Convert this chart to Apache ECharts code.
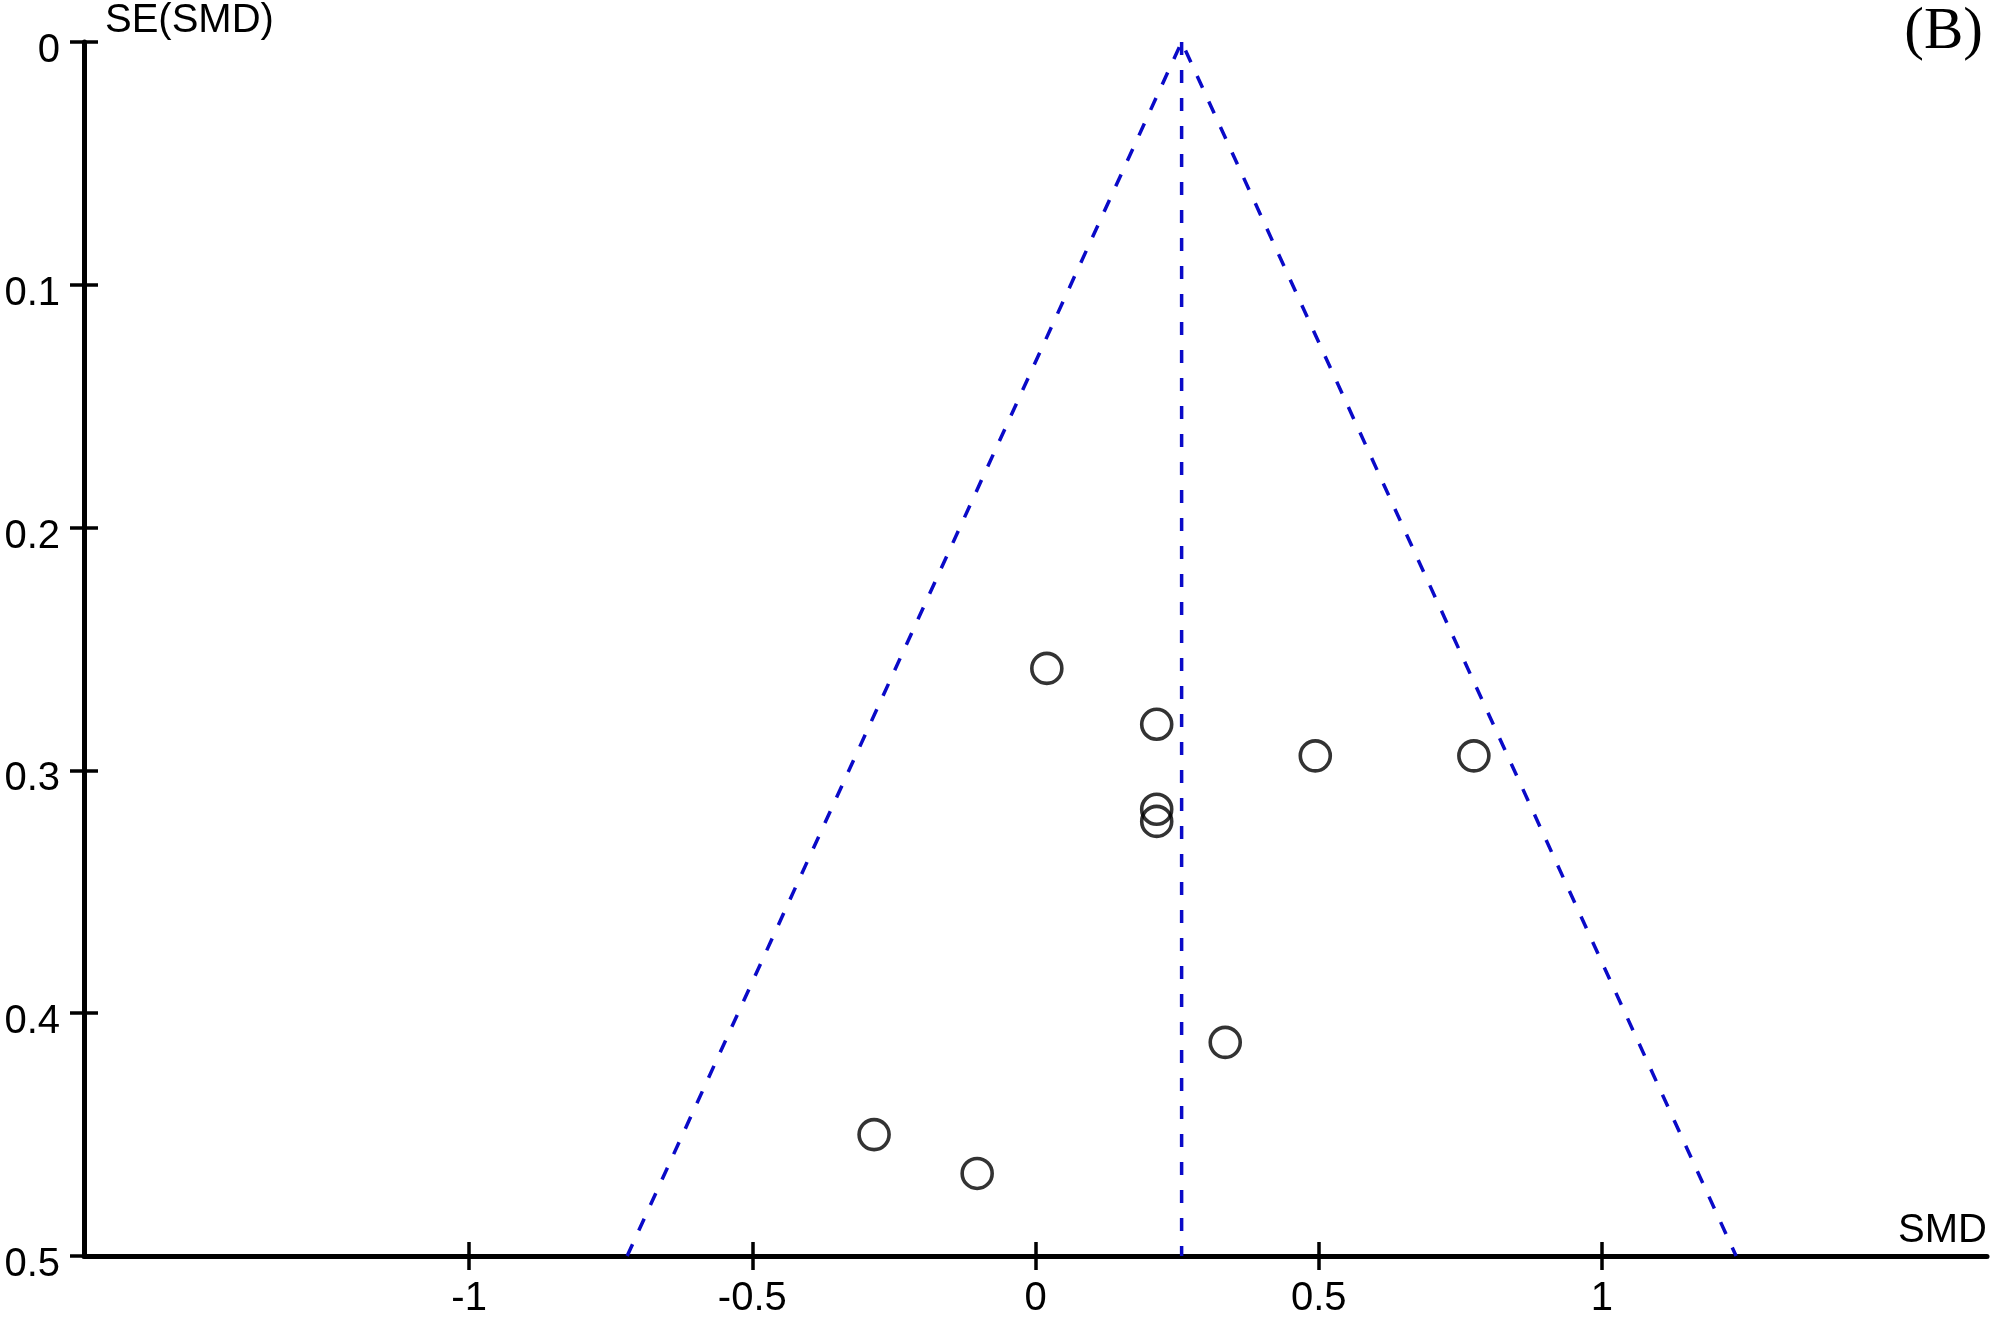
<!DOCTYPE html>
<html>
<head>
<meta charset="utf-8">
<script src="https://cdn.jsdelivr.net/npm/echarts@6/dist/echarts.min.js"></script>
<style>
html,body{margin:0;padding:0;background:#fff;}
#c{width:2000px;height:1333px;}
</style>
</head>
<body>
<div id="c"></div>
<script>
// Study points: SMD (x) and SE(SMD) (y)
var smd = [0.020, 0.214, 0.494, 0.774, 0.214, 0.214, 0.335, -0.285, -0.103];
var seSmd = [0.258, 0.281, 0.294, 0.294, 0.316, 0.321, 0.412, 0.450, 0.466];

// Funnel (pseudo 95% CI) outline and pooled estimate line
var funnelX = [-0.721, 0.258, 1.237];
var funnelY = [0.5, 0, 0.5];
var pooledX = [0.258, 0.258];
var pooledY = [0, 0.5];

// Axis settings
var xTicks = [-1, -0.5, 0, 0.5, 1];
var xMin = -1.68, xMax = 1.68;
var yMin = 0, yMax = 0.5, yInterval = 0.1;

function zip(a, b) { return a.map(function (v, i) { return [v, b[i]]; }); }

var font = '"Liberation Sans", Arial, sans-serif';
var blue = '#0a0ac8';

var chart = echarts.init(document.getElementById('c'), null, {renderer: 'canvas'});
chart.setOption({
  animation: false,
  backgroundColor: '#ffffff',
  grid: {left: 84, right: 13, top: 42, bottom: 77, containLabel: false},
  xAxis: [{
    type: 'value', min: xMin, max: xMax, position: 'bottom',
    axisLine: {show: true, onZero: false, lineStyle: {color: '#000', width: 5}},
    axisTick: {show: true, inside: false, length: 14, customValues: xTicks, lineStyle: {color: '#000', width: 3.5}},
    axisLabel: {show: true, customValues: xTicks, margin: 23, color: '#000', fontSize: 40, fontFamily: font},
    splitLine: {show: false}
  }, {
    type: 'value', min: xMin, max: xMax, position: 'bottom',
    axisLine: {show: false, onZero: false},
    axisTick: {show: true, inside: true, length: 14, customValues: xTicks, lineStyle: {color: '#000', width: 3.5}},
    axisLabel: {show: false},
    splitLine: {show: false}
  }],
  yAxis: [{
    type: 'value', min: yMin, max: yMax, interval: yInterval, inverse: true, position: 'left',
    axisLine: {show: true, onZero: false, lineStyle: {color: '#000', width: 5}},
    axisTick: {show: true, inside: false, length: 14, lineStyle: {color: '#000', width: 3.5}},
    axisLabel: {
      show: true, margin: 24, color: '#000', fontSize: 40, fontFamily: font,
      formatter: '{a|{value}}',
      rich: {a: {color: '#000', fontSize: 40, fontFamily: font, padding: [18, 0, 0, 0]}}
    },
    splitLine: {show: false}
  }, {
    type: 'value', min: yMin, max: yMax, interval: yInterval, inverse: true, position: 'left',
    axisLine: {show: false, onZero: false},
    axisTick: {show: true, inside: true, length: 14, lineStyle: {color: '#000', width: 3.5}},
    axisLabel: {show: false},
    splitLine: {show: false}
  }],
  series: [{
    type: 'line', xAxisIndex: 0, yAxisIndex: 0,
    data: zip(funnelX, funnelY), symbol: 'none', silent: true,
    lineStyle: {color: blue, width: 3.5, type: [13, 15]}
  }, {
    type: 'line', xAxisIndex: 0, yAxisIndex: 0,
    data: zip(pooledX, pooledY), symbol: 'none', silent: true,
    lineStyle: {color: blue, width: 3.5, type: [13, 15]}
  }, {
    type: 'scatter', xAxisIndex: 0, yAxisIndex: 0,
    data: zip(smd, seSmd), symbol: 'circle', symbolSize: 30,
    itemStyle: {color: 'rgba(0,0,0,0)', borderColor: '#000', borderWidth: 3.6}
  }],
  graphic: [{
    type: 'text', left: 105, top: 1,
    style: {text: 'SE(SMD)', fill: '#000', font: '40px ' + font}
  }, {
    type: 'text', right: 13, top: 1211,
    style: {text: 'SMD', fill: '#000', font: '40px ' + font}
  }, {
    type: 'text', right: 17, top: 3,
    style: {text: '(B)', fill: '#000', font: '59px "Liberation Serif", "Times New Roman", serif'}
  }]
});
</script>
</body>
</html>
